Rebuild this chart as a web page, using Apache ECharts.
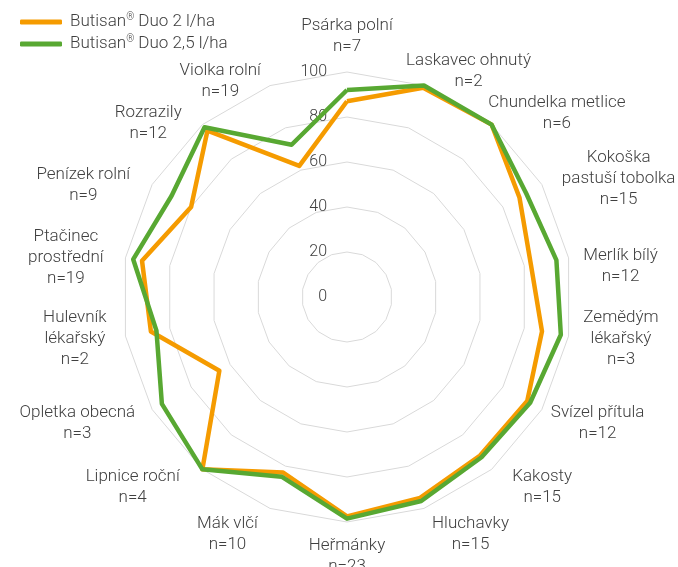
<!DOCTYPE html>
<html>
	<head>
		<meta charset="utf-8">
		<title></title>
		<script type="text/javascript" src="https://cdn.jsdelivr.net/npm/echarts@6/dist/echarts.min.js"></script>
		<style>
			html, body { margin: 0; padding: 0; background: #fff; }
			#chart { width: 678px; height: 567px; }
		</style>
	</head>
	<body>
		<div id="chart"></div>
		<script type="text/javascript">
			// plevele (osy grafu, po směru hodinových ručiček od vrchu), počet pokusů
			var plevele = ['Psárka polní', 'Laskavec ohnutý', 'Chundelka metlice', 'Kokoška\npastuší tobolka', 'Merlík bílý',
				'Zemědým\nlékařský', 'Svízel přítula', 'Kakosty', 'Hluchavky', 'Heřmánky', 'Mák vlčí', 'Lipnice roční',
				'Opletka obecná', 'Hulevník\nlékařský', 'Ptačinec\nprostřední', 'Penízek rolní', 'Rozrazily', 'Violka rolní'];
			var pocty = [7, 2, 6, 15, 12, 3, 12, 15, 15, 23, 10, 4, 3, 2, 19, 9, 12, 19];

			var serie = ['Butisan® Duo 2 l/ha', 'Butisan® Duo 2,5 l/ha'];
			// účinnost v %
			var duo2 = [87, 99, 100, 88.5, 83, 88, 92.5, 92, 95, 97.5, 83, 100, 65.5, 88.5, 92.5, 80, 96.5, 62];
			var duo25 = [92, 100, 100, 92, 94.5, 96.5, 94, 93, 96.5, 98.5, 85, 100, 95, 86, 96.5, 90, 98.5, 72];

			var osaMax = 100;
			var barvy = ['#f59b00', '#58a832'];
			var font = 'Roboto, "Liberation Sans", sans-serif';
			var textColor = '#404040';
			var nameSize = 17;
			var nameLine = 21;

			// posun popisků os oproti výchozí poloze [dx, dy]
			var posun = [[0, 0], [-23, 0], [-13, 0], [7, 2], [0, 11], [0, 0], [-4, 6], [11, 6], [3, 12],
				[0, -2], [-7, 12], [-13, 6], [-4, 6], [-4, 0], [-7, 2], [-9, 8], [-11, 10], [-4, 10]];

			var ctx = document.createElement('canvas').getContext('2d');
			ctx.font = '300 ' + nameSize + 'px ' + font;

			function textWidth(s) {
				var w = 0;
				s.split('\n').forEach(function(l) {
					w = Math.max(w, ctx.measureText(l).width);
				});
				return w;
			}

			// echarts radar jde proti směru hodin -> obrátit pořadí
			var poradi = [0];
			for (var i = plevele.length - 1; i > 0; i--) {
				poradi.push(i);
			}

			var indicator = [];
			var n = plevele.length;
			for (var k = 0; k < poradi.length; k++) {
				var i = poradi[k];
				var name = plevele[i] + '\nn=' + pocty[i];
				var ind = {
					name: name,
					min: 0,
					max: osaMax
				};
				if (k == 0) {
					// horní popisek nechat ve výchozí poloze (jinak koliduje s popisky osy)
					ind.axisLabel = { show: true };
				} else {
					var w = textWidth(name);
					var h = name.split('\n').length * nameLine;
					var s = Math.sin(i * 2 * Math.PI / n);
					var ox = posun[i][0];
					var oy = posun[i][1];
					if (Math.abs(s) > 0.01) {
						ox += (s > 0 ? 1 : -1) * w / 2;
					} else {
						oy += h / 2;
					}
					ind.nameTextStyle = {
						align: 'center',
						verticalAlign: 'middle',
						padding: [Math.max(0, 2 * oy), Math.max(0, -2 * ox), Math.max(0, -2 * oy), Math.max(0, 2 * ox)]
					};
				}
				indicator.push(ind);
			}

			var myChart = echarts.init(document.getElementById('chart'));
			var option = {
				animation: false,
				legend: {
					orient: 'vertical',
					left: 20,
					top: 12,
					padding: 0,
					itemWidth: 42,
					itemHeight: 5,
					itemGap: 2,
					icon: 'roundRect',
					data: serie,
					formatter: function(name) {
						return name.replace('®', '{sup|®}');
					},
					textStyle: {
						color: textColor,
						fontFamily: font,
						fontWeight: 300,
						fontSize: 17,
						lineHeight: 20,
						padding: [0, 0, 0, 3],
						rich: {
							sup: {
								fontSize: 10,
								fontFamily: font,
								color: textColor,
								verticalAlign: 'top',
								lineHeight: 14
							}
						}
					}
				},
				radar: {
					center: [347, 297],
					radius: 225,
					startAngle: 90,
					splitNumber: 5,
					shape: 'polygon',
					indicator: indicator,
					axisNameGap: 15,
					axisName: {
						color: textColor,
						fontFamily: font,
						fontSize: nameSize,
						lineHeight: nameLine,
						formatter: function(name) {
							return name.split('\n').map(function(s) {
								return '{c|' + s + '}';
							}).join('\n');
						},
						rich: {
							c: {
								align: 'center',
								color: textColor,
								fontFamily: font,
								fontWeight: 300,
								fontSize: nameSize,
								lineHeight: nameLine
							}
						}
					},
					axisLine: { show: false },
					axisTick: { show: false },
					axisLabel: {
						show: false,
						margin: 20,
						color: textColor,
						fontFamily: font,
						fontWeight: 300,
						fontSize: 16
					},
					splitLine: {
						lineStyle: { color: '#d9d9d9', width: 1 }
					},
					splitArea: { show: false }
				},
				series: [{
					type: 'radar',
					symbol: 'none',
					data: [{
						name: serie[0],
						value: poradi.map(function(i) { return duo2[i]; }),
						lineStyle: { color: barvy[0], width: 4.5 },
						itemStyle: { color: barvy[0] }
					}, {
						name: serie[1],
						value: poradi.map(function(i) { return duo25[i]; }),
						lineStyle: { color: barvy[1], width: 4.5 },
						itemStyle: { color: barvy[1] }
					}]
				}]
			};
			myChart.setOption(option);
		</script>
	</body>
</html>
